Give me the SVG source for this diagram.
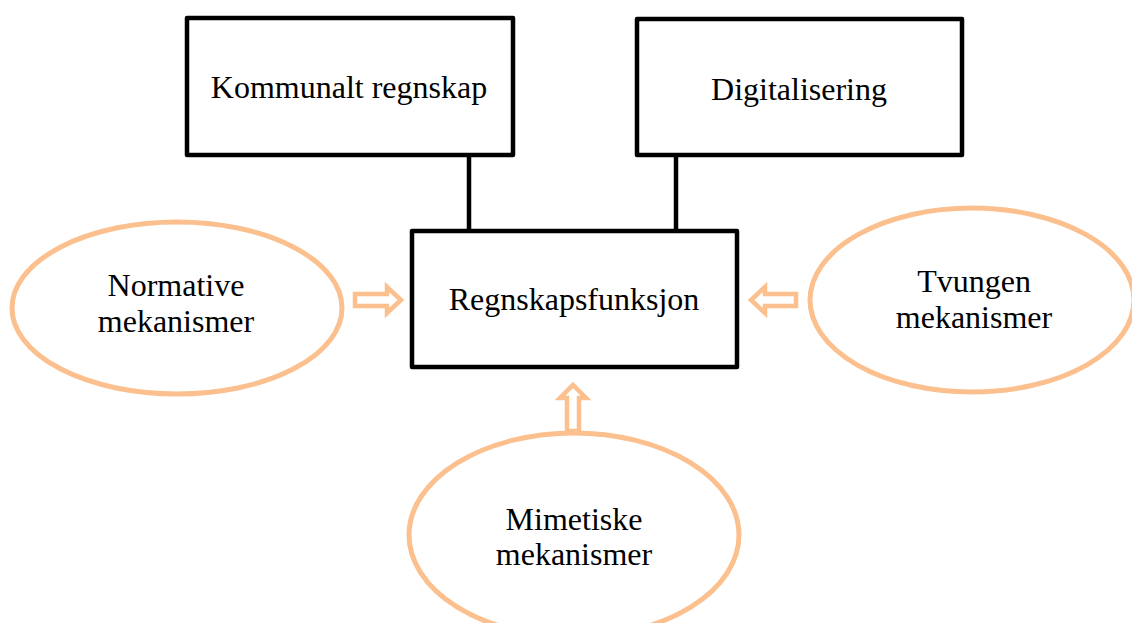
<svg xmlns="http://www.w3.org/2000/svg" width="1132" height="623" viewBox="0 0 1132 623">
<style>
.box{fill:#fff;stroke:#000;stroke-width:4.5;stroke-linejoin:round}
.ell{fill:#fff;stroke:#FBC08D;stroke-width:5}
.arr{fill:#fff;stroke:#FBC08D;stroke-width:4.5;stroke-linejoin:miter}
.con{stroke:#000;stroke-width:4.5;fill:none}
text{font-family:"Liberation Serif","Times New Roman",serif;font-size:32px;fill:#000;text-anchor:middle}
</style>
<rect width="1132" height="623" fill="#fff"/>
<g id="connectors">
<line class="con" x1="469" y1="155" x2="469" y2="231"/>
<line class="con" x1="676" y1="155" x2="676" y2="231"/>
<polygon class="arr" points="355,294 387,294 387,287 401,300 387,313 387,306 355,306"/>
<polygon class="arr" points="796,294 765,294 765,287 751,300 765,313 765,306 796,306"/>
<polygon class="arr" points="567,431 567,398 560,398 573,385 586,398 579,398 579,431"/>
</g>
<g id="kommunalt"><rect class="box" x="187" y="18" width="326" height="137"/><text x="349" y="98">Kommunalt regnskap</text></g>
<g id="digitalisering"><rect class="box" x="637" y="19" width="325" height="136"/><text x="799" y="100">Digitalisering</text></g>
<g id="regnskapsfunksjon"><rect class="box" x="412" y="231" width="325" height="136"/><text x="574" y="310">Regnskapsfunksjon</text></g>
<g id="normative"><ellipse class="ell" cx="177" cy="308" rx="165" ry="86"/><text x="176" y="296">Normative</text><text x="176" y="332">mekanismer</text></g>
<g id="tvungen"><ellipse class="ell" cx="972" cy="300" rx="162" ry="92"/><text x="974" y="292">Tvungen</text><text x="974" y="328">mekanismer</text></g>
<g id="mimetiske"><ellipse class="ell" cx="574" cy="535" rx="165" ry="102"/><text x="574" y="530">Mimetiske</text><text x="574" y="565">mekanismer</text></g>
</svg>
